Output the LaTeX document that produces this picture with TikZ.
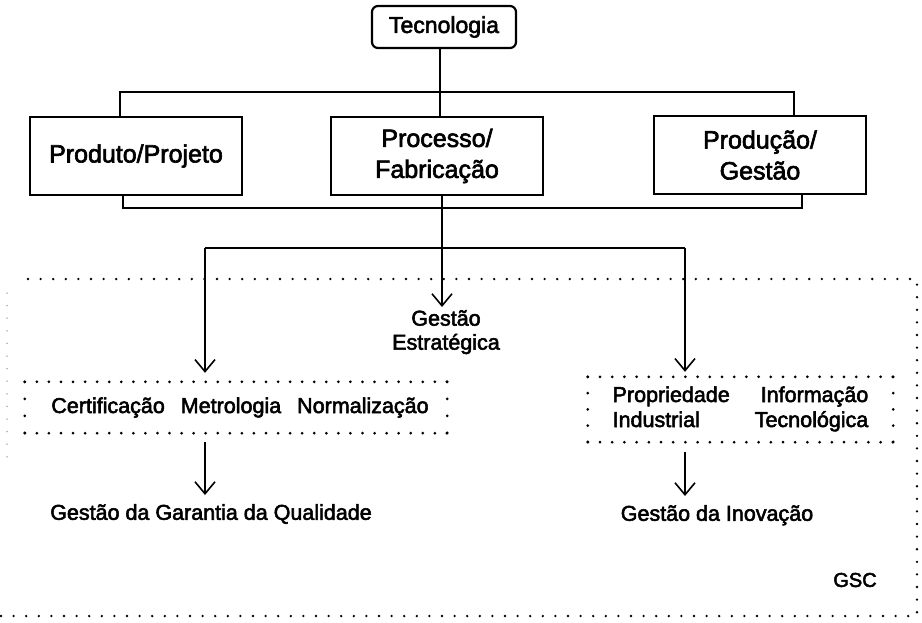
\documentclass[tikz,border=0pt]{standalone}
\usepackage{fontspec}
\setmainfont{Liberation Sans}
\newfontfamily\hv{Liberation Sans}[FakeBold=2.5]
\usetikzlibrary{arrows.meta}
\begin{document}
\begin{tikzpicture}[x=1pt,y=-1pt,
  conn/.style={line width=2pt},
  arr/.style={line width=1.6pt,-{Straight Barb[length=12pt,width=20pt,line width=1.6pt]}},
  mainbox/.style={draw,line width=2.8pt,minimum width=212pt,minimum height=78pt,align=center,font=\hv\fontsize{25}{31}\selectfont,inner sep=0pt},
  lbl/.style={font=\hv\fontsize{21.5}{24}\selectfont,inner sep=0pt,align=center},
  dotrow/.style={line width=3pt,line cap=round,dash pattern=on 0pt off #1},
]
\useasboundingbox (0,0) rectangle (922,622);

% top nodes
\node[draw,rounded corners=6pt,line width=2.2pt,minimum width=144pt,minimum height=42pt,font=\hv\fontsize{23}{28}\selectfont,inner sep=0pt] (tec) at (444,27) {Tecnologia};
\node[mainbox] (prod) at (136,156) {Produto/Projeto};
\node[mainbox] (proc) at (437,156) {Processo/\\Fabricação};
\node[mainbox] (prodg) at (760,155) {Produção/\\Gestão};

% buses
\coordinate (tv) at (440,0);
\coordinate (tl) at (120,92);
\coordinate (tr) at (794,92);
\coordinate (bl) at (123,208);
\coordinate (br) at (802,208);
\draw[conn] (tv |- tec.south) -- (tv |- proc.north);
\draw[conn] (tl |- prod.north) -- (tl) -- (tr) -- (tr |- prodg.north);
\draw[conn,line width=2.4pt] (bl |- prod.south) -- (bl) -- (br) -- (br |- prodg.south);

% large dotted frame
\coordinate (f1) at (28,279);
\coordinate (f2) at (917,279);
\coordinate (f3) at (917,616);
\coordinate (f4) at (0,616);
\coordinate (g1) at (7,293);
\coordinate (g2) at (7,465);
\draw[dotrow=12.6pt,line width=2.6pt] (f1) -- (f2) -- (f3) -- (f4);
\draw[dotrow=12.6pt,line width=1.5pt,black!45] (g1) -- (g2);

% middle level
\coordinate (cv) at (442,248);
\coordinate (jl) at (205,248);
\coordinate (jr) at (685,248);
\node[lbl,anchor=north] (ge) at (446,310) {Gestão\\Estratégica};
\draw[conn] (jl) -- (jr);
\draw[arr,shorten >=3pt] (cv |- proc.south) -- (cv |- ge.north);

% left dotted box
\node[lbl,minimum width=422pt,minimum height=51pt] (lb) at (236,407.5) {\hspace{8pt}Certificação\hspace{16pt}Metrologia\hspace{16pt}Normalização};
\draw[dotrow=12.06pt] (lb.north west) -- (lb.north east);
\draw[dotrow=12.06pt] (lb.south west) -- (lb.south east);
\draw[dotrow=17pt] (lb.north west) -- (lb.south west);
\draw[dotrow=17pt] (lb.north east) -- (lb.south east);
\draw[arr,shorten >=9pt] (jl) -- (jl |- lb.north);

% right dotted box
\node[font=\hv\fontsize{21.5}{25}\selectfont,inner sep=0pt,minimum width=305pt,minimum height=65pt] (rb) at (740.5,409.5)
  {\begin{tabular}{@{}l@{\hspace{25pt}}r@{}}Propriedade & Informação\\ Industrial & Tecnológica\end{tabular}};
\draw[dotrow=12.2pt] (rb.north west) -- (rb.north east);
\draw[dotrow=12.2pt] (rb.south west) -- (rb.south east);
\draw[dotrow=16.25pt] (rb.north west) -- (rb.south west);
\draw[dotrow=16.25pt] (rb.north east) -- (rb.south east);
\draw[arr,shorten >=5pt] (jr) -- (jr |- rb.north);

% bottom level
\node[lbl,anchor=north] (gq) at (211,504) {Gestão da Garantia da Qualidade};
\node[lbl,anchor=north] (gi) at (717,505) {Gestão da Inovação};
\draw[arr,shorten <=9pt,shorten >=9pt] (jl |- lb.south) -- (jl |- gq.north);
\draw[arr,shorten <=10pt,shorten >=9pt] (jr |- rb.south) -- (jr |- gi.north);

\node[font=\hv\fontsize{20}{24}\selectfont,inner sep=0pt] (gsc) at (855,580) {GSC};
\end{tikzpicture}
\end{document}
